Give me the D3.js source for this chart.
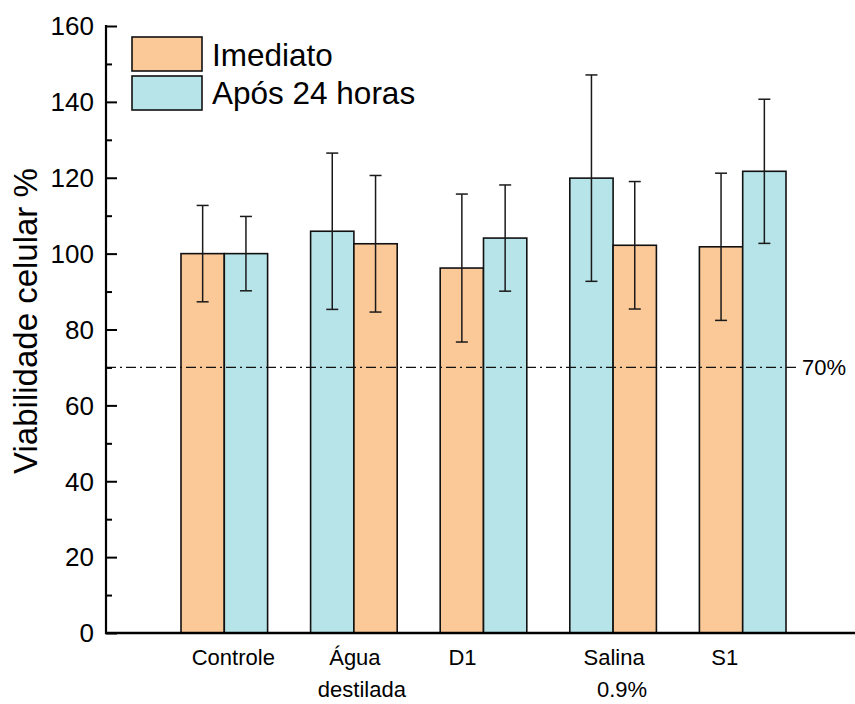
<!DOCTYPE html>
<html>
<head>
<meta charset="utf-8">
<script src="https://cdn.jsdelivr.net/npm/d3@7"></script>
<style>
  html, body { margin: 0; padding: 0; background: #fff; }
  svg { display: block; font-family: "Liberation Sans", Arial, Helvetica, sans-serif; }
</style>
</head>
<body>
<svg id="chart" width="855" height="704"></svg>
<script>
// Groups along the x axis (label lines)
const categories = ["Controle", "Água destilada", "D1", "Salina 0.9%", "S1"];
const categoryLines = [["Controle"], ["Água", "destilada"], ["D1"], ["Salina", "0.9%"], ["S1"]];

// Series
const seriesNames = ["Imediato", "Após 24 horas"];
const imediato     = [100.0, 102.6,  96.2, 102.2, 101.8];
const imediatoErr  = [ 12.7,  18.0,  19.5,  16.8,  19.4];
const apos24       = [100.0, 105.9, 104.1, 119.9, 121.7];
const apos24Err    = [  9.8,  20.6,  14.0,  27.2,  19.0];
// Which series is drawn on the left inside each group
const leftSeries   = ["Imediato", "Após 24 horas", "Imediato", "Após 24 horas", "Imediato"];

const yTicks = [0, 20, 40, 60, 80, 100, 120, 140, 160];
const threshold = 70;
const thresholdLabel = "70%";

// Small horizontal nudges for the group labels (px)
const labelNudge = [9, 1, -21, 1, -18];
const labelNudge2 = [0, 8, 0, 9, 0];

const colors = { "Imediato": "#FBC897", "Após 24 horas": "#B6E4E9" };

const svg = d3.select("#chart");
const axisX = 106, baseY = 633, rightX = 855;

const y = d3.scaleLinear().domain([0, 160]).range([baseY, 26]);
const x = d3.scalePoint().domain(categories).range([224.3, 742.7]);
const barW = 43.3;

// Bars + error bars
const bars = [];
categories.forEach((c, i) => {
  const vals = {
    "Imediato": [imediato[i], imediatoErr[i]],
    "Após 24 horas": [apos24[i], apos24Err[i]]
  };
  const left = leftSeries[i];
  const right = seriesNames.find(s => s !== left);
  [[left, -1], [right, 0]].forEach(([s, k]) => {
    bars.push({ cat: c, series: s, x0: x(c) + k * barW, v: vals[s][0], e: vals[s][1] });
  });
});

svg.append("g").selectAll("rect").data(bars).join("rect")
  .attr("x", d => d.x0)
  .attr("y", d => y(d.v))
  .attr("width", barW)
  .attr("height", d => baseY - y(d.v))
  .attr("fill", d => colors[d.series])
  .attr("stroke", "#111")
  .attr("stroke-width", 1.6);

const eb = svg.append("g").attr("stroke", "#1a1a1a").attr("stroke-width", 1.5).attr("fill", "none");
bars.forEach(d => {
  const cx = d.x0 + barW / 2;
  eb.append("line").attr("x1", cx).attr("x2", cx).attr("y1", y(d.v + d.e)).attr("y2", y(d.v - d.e));
  eb.append("line").attr("x1", cx - 6).attr("x2", cx + 6).attr("y1", y(d.v + d.e)).attr("y2", y(d.v + d.e));
  eb.append("line").attr("x1", cx - 6).attr("x2", cx + 6).attr("y1", y(d.v - d.e)).attr("y2", y(d.v - d.e));
});

// Threshold line
svg.append("line")
  .attr("x1", axisX).attr("x2", 797)
  .attr("y1", y(threshold)).attr("y2", y(threshold))
  .attr("stroke", "#111").attr("stroke-width", 1.3)
  .attr("stroke-dasharray", "10,4,2,4");
svg.append("text")
  .attr("x", 802).attr("y", y(threshold))
  .attr("dy", "0.36em")
  .attr("font-size", 22)
  .text(thresholdLabel);

// Y axis (ticks pointing inward)
const yAxis = d3.axisRight(y)
  .tickValues(d3.range(0, 161, 10))
  .tickSize(0)
  .tickFormat("");
const yg = svg.append("g").attr("transform", `translate(${axisX},0)`).call(yAxis);
yg.select(".domain").remove();
yg.selectAll(".tick line")
  .attr("x2", d => (d % 20 === 0 ? 11 : 6))
  .attr("stroke", "#000").attr("stroke-width", 2);
svg.append("line").attr("x1", axisX).attr("x2", axisX).attr("y1", y(160) - 1).attr("y2", baseY + 1)
  .attr("stroke", "#000").attr("stroke-width", 2.2);

svg.append("g").selectAll("text").data(yTicks).join("text")
  .attr("x", 94).attr("y", d => y(d)).attr("dy", "0.36em")
  .attr("text-anchor", "end").attr("font-size", 26)
  .text(d => d);

// X axis line
svg.append("line").attr("x1", axisX - 1).attr("x2", rightX).attr("y1", baseY).attr("y2", baseY)
  .attr("stroke", "#000").attr("stroke-width", 2.4);

// Group labels
const xl = svg.append("g").attr("font-size", 22).attr("text-anchor", "middle");
categories.forEach((c, i) => {
  categoryLines[i].forEach((line, j) => {
    xl.append("text")
      .attr("x", x(c) + (j === 0 ? labelNudge[i] : labelNudge2[i]))
      .attr("y", 665 + j * 32)
      .text(line);
  });
});

// Y axis title
svg.append("text")
  .attr("transform", "translate(37,321) rotate(-90)")
  .attr("text-anchor", "middle")
  .attr("font-size", 33)
  .text("Viabilidade celular %");

// Legend
const legend = svg.append("g");
seriesNames.forEach((s, i) => {
  legend.append("rect")
    .attr("x", 132).attr("y", 37 + i * 39).attr("width", 70).attr("height", 34)
    .attr("fill", colors[s]).attr("stroke", "#111").attr("stroke-width", 1.6);
  legend.append("text")
    .attr("x", 212).attr("y", 65.5 + i * 38)
    .attr("font-size", 31.5)
    .text(s);
});
</script>
</body>
</html>
